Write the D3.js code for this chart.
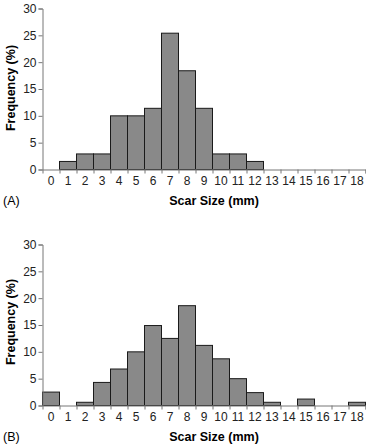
<!DOCTYPE html>
<html>
<head>
<meta charset="utf-8">
<script src="https://cdn.jsdelivr.net/npm/d3@7"></script>
<style>
  body { margin: 0; background: #fff; }
  text { font-family: "Liberation Sans", Arial, sans-serif; }
</style>
</head>
<body>
<div id="chart"></div>
<script>
// scar size bins (mm) and frequency (%) for the two panels
const bins = d3.range(0, 19);
const freqA = [0, 1.5, 2.9, 2.9, 10.0, 10.0, 11.4, 25.4, 18.4, 11.4, 2.9, 2.9, 1.5, 0, 0, 0, 0, 0, 0];
const freqB = [2.5, 0, 0.6, 4.3, 6.8, 10.0, 14.9, 12.5, 18.6, 11.2, 8.7, 5.0, 2.4, 0.6, 0, 1.2, 0, 0, 0.6];
const yTicks = [0, 5, 10, 15, 20, 25, 30];

const width = 366, height = 444;

const svg = d3.select("#chart")
  .append("svg")
  .attr("width", width)
  .attr("height", height);

const x = d3.scaleLinear()
  .domain([0, 19])
  .range([42.5, 365.5]);

const panels = [
  { label: "(A)", values: freqA, top: 8.5, bottom: 169.5, titleY: 205, freqY: 88 },
  { label: "(B)", values: freqB, top: 244.5, bottom: 405.5, titleY: 441, freqY: 322 }
];

panels.forEach(p => {
  const y = d3.scaleLinear()
    .domain([0, 30])
    .range([p.bottom, p.top]);

  const g = svg.append("g");

  // bars
  g.selectAll("rect")
    .data(bins.filter(b => p.values[b] > 0))
    .enter().append("rect")
    .attr("x", b => x(b))
    .attr("y", b => y(p.values[b]))
    .attr("width", b => x(b + 1) - x(b))
    .attr("height", b => y(0) - y(p.values[b]))
    .attr("fill", "#898989")
    .attr("stroke", "#1a1a1a")
    .attr("stroke-width", 1);

  // y axis
  const yAxis = g.append("g")
    .attr("transform", `translate(${x(0)},0)`)
    .call(d3.axisLeft(y).tickValues(yTicks).tickSize(4).tickPadding(2));

  // x axis: ticks at bin edges, labels at bin centres
  const xAxis = g.append("g")
    .attr("transform", `translate(0,${y(0)})`)
    .call(d3.axisBottom(x).tickValues(d3.range(1, 20)).tickSize(4).tickFormat(""));

  g.selectAll(".xlab")
    .data(bins)
    .enter().append("text")
    .attr("class", "xlab")
    .attr("x", b => x(b + 0.5))
    .attr("y", y(0) + 15)
    .attr("text-anchor", "middle")
    .attr("font-size", 12)
    .attr("fill", "#222")
    .text(b => b);

  [yAxis, xAxis].forEach(a => {
    a.select(".domain").attr("stroke", "#777");
    a.selectAll(".tick line").attr("stroke", "#777");
    a.selectAll("text")
      .attr("font-size", 12)
      .attr("fill", "#222")
      .style("font-family", "Liberation Sans, Arial, sans-serif");
  });

  g.append("text")
    .attr("x", 214)
    .attr("y", p.titleY)
    .attr("text-anchor", "middle")
    .attr("font-size", 12.5)
    .attr("font-weight", "bold")
    .text("Scar Size (mm)");

  g.append("text")
    .attr("x", 3)
    .attr("y", p.titleY)
    .attr("font-size", 12.5)
    .text(p.label);

  g.append("text")
    .attr("transform", `translate(15,${p.freqY}) rotate(-90)`)
    .attr("text-anchor", "middle")
    .attr("font-size", 12.5)
    .attr("font-weight", "bold")
    .text("Frequency (%)");
});
</script>
</body>
</html>
